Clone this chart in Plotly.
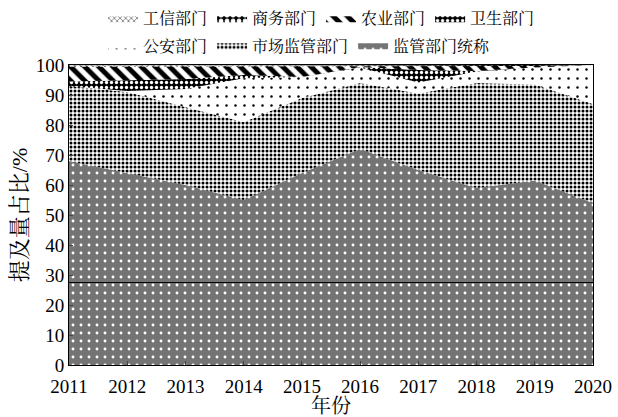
import plotly.graph_objects as go

years = [2011, 2012, 2013, 2014, 2015, 2016, 2017, 2018, 2019, 2020]

# shares (%) stacked from bottom to top
jianguan_tongcheng = [68, 64, 60, 55, 64, 72, 65, 59, 61.5, 54]   # 监管部门统称
shichang = [25, 27, 26, 26, 25, 22, 25.5, 35, 32, 33]             # 市场监管部门
gongan = [0, 0.3, 6, 14.6, 7, 5.2, 3.7, 3.8, 5.7, 13]             # 公安部门
weisheng = [1.5, 3.7, 3.3, 1.1, 0, 0.1, 4.1, 0.2, 0, 0]           # 卫生部门
nongye = [5, 4.5, 4.2, 2.8, 3.5, 0.3, 1.2, 1.5, 0.5, 0]           # 农业部门
shangwu = [0.3, 0.3, 0.3, 0.3, 0.3, 0.2, 0.3, 0.3, 0.2, 0]        # 商务部门
gongxin = [0.2, 0.2, 0.2, 0.2, 0.2, 0.2, 0.2, 0.2, 0.1, 0]        # 工信部门

ref_line_value = 27.5

FONT = "Times New Roman, Liberation Serif, Noto Serif CJK SC, Noto Sans CJK SC, serif"

series = [
    ("监管部门统称", jianguan_tongcheng, dict(shape=".", bgcolor="#747474", fgcolor="white", size=8, solidity=0.1), "legend2"),
    ("市场监管部门", shichang, dict(shape=".", bgcolor="white", fgcolor="black", size=4, solidity=0.45), "legend2"),
    ("公安部门", gongan, dict(shape=".", bgcolor="white", fgcolor="black", size=9, solidity=0.06), "legend2"),
    ("卫生部门", weisheng, dict(shape=".", bgcolor="black", fgcolor="white", size=5, solidity=0.35), "legend"),
    ("农业部门", nongye, dict(shape="\\", bgcolor="white", fgcolor="black", size=10, solidity=0.5), "legend"),
    ("商务部门", shangwu, dict(shape=".", bgcolor="black", fgcolor="white", size=6, solidity=0.5), "legend"),
    ("工信部门", gongxin, dict(shape="x", bgcolor="white", fgcolor="#555555", size=4, solidity=0.3), "legend"),
]

fig = go.Figure()
for name, vals, pat, lg in series:
    fig.add_trace(go.Scatter(
        x=years, y=vals, name=name, mode="lines",
        stackgroup="one", line=dict(width=0, color="black"),
        fillcolor="white", fillpattern=dict(fillmode="replace", **pat),
        legend=lg,
    ))

fig.add_shape(type="line", xref="paper", x0=0, x1=1, yref="y",
              y0=ref_line_value, y1=ref_line_value,
              line=dict(color="black", width=1))

fig.update_layout(
    width=618, height=417,
    margin=dict(l=69, r=25, t=65, b=52, autoexpand=False),
    paper_bgcolor="white", plot_bgcolor="white",
    font=dict(family=FONT, size=19, color="black"),
    showlegend=True,
    legend=dict(orientation="h", x=0.065, y=0.997, xanchor="left", yanchor="top",
                xref="paper", yref="container",
                traceorder="reversed", font=dict(size=16), bgcolor="rgba(0,0,0,0)",
                itemwidth=30, tracegroupgap=0),
    legend2=dict(orientation="h", x=0.065, y=0.932, xanchor="left", yanchor="top",
                 xref="paper", yref="container",
                 traceorder="reversed", font=dict(size=16), bgcolor="rgba(0,0,0,0)",
                 itemwidth=30, tracegroupgap=0),
    xaxis=dict(range=[2011, 2020], tickmode="array", tickvals=years,
               ticktext=[str(y) for y in years], ticks="inside", ticklen=4,
               showline=True, linecolor="black", linewidth=1, mirror=True,
               showgrid=False, zeroline=False, ticklabelstandoff=4, automargin=False,
               title=dict(text="年份", font=dict(size=20), standoff=0)),
    yaxis=dict(range=[0, 100], tickmode="linear", tick0=0, dtick=10,
               ticks="inside", ticklen=4, automargin=False,
               showline=True, linecolor="black", linewidth=1, mirror=True,
               showgrid=False, zeroline=False,
               title=dict(text="提及量占比/%", font=dict(size=22), standoff=2)),
)

fig.write_html("out.html")
